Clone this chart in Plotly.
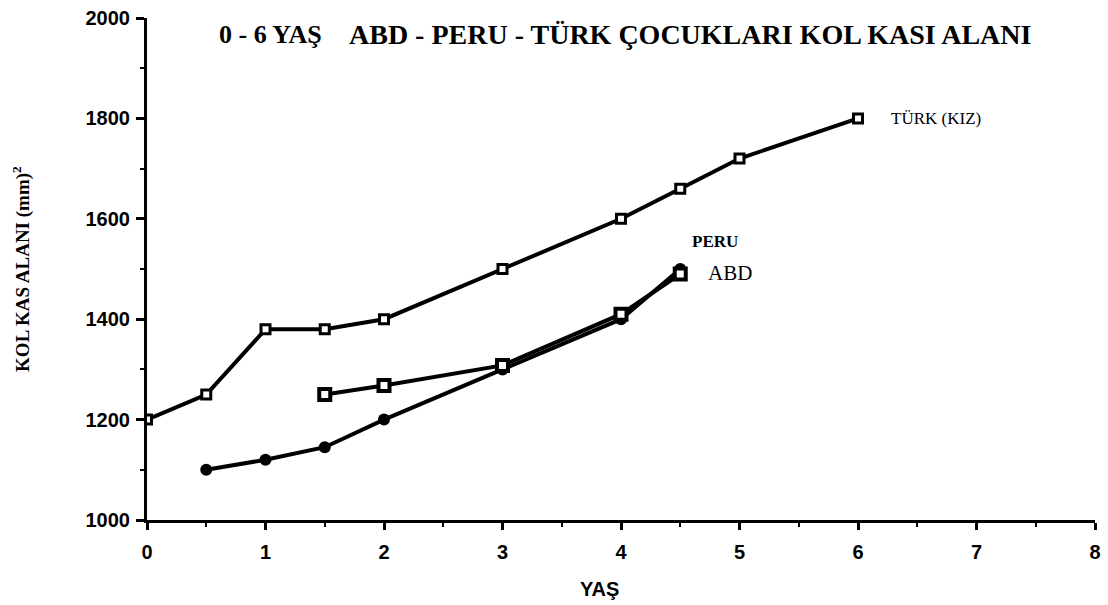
import plotly.graph_objects as go

# Age (years) and arm muscle area (mm^2)
turk_age = [0, 0.5, 1, 1.5, 2, 3, 4, 4.5, 5, 6]
turk_area = [1200, 1250, 1380, 1380, 1400, 1500, 1600, 1660, 1720, 1800]

abd_age = [1.5, 2, 3, 4, 4.5]
abd_area = [1250, 1268, 1308, 1410, 1490]

peru_age = [0.5, 1, 1.5, 2, 3, 4, 4.5]
peru_area = [1100, 1120, 1145, 1200, 1300, 1400, 1500]

x_ticks = [0, 1, 2, 3, 4, 5, 6, 7, 8]
y_ticks = [1000, 1200, 1400, 1600, 1800, 2000]

SERIF = "Liberation Serif"
SANS = "Liberation Sans"

fig = go.Figure()

fig.add_trace(go.Scatter(x=turk_age, y=turk_area, mode="lines+markers",
                         line=dict(color="black", width=4),
                         marker=dict(symbol="square", size=9, color="white",
                                     line=dict(color="black", width=3)),
                         showlegend=False))
fig.add_trace(go.Scatter(x=peru_age, y=peru_area, mode="lines+markers",
                         line=dict(color="black", width=4),
                         marker=dict(symbol="circle", size=12, color="black"),
                         showlegend=False))
fig.add_trace(go.Scatter(x=abd_age, y=abd_area, mode="lines+markers",
                         line=dict(color="black", width=4),
                         marker=dict(symbol="square", size=11, color="white",
                                     line=dict(color="black", width=4)),
                         showlegend=False))

axis_common = dict(showgrid=False, zeroline=False, showline=True,
                   linecolor="black", linewidth=3, ticks="outside",
                   tickcolor="black", tickwidth=2.5)

fig.update_xaxes(range=[0, 8], tickvals=x_ticks, ticklen=7,
                 tickfont=dict(family=SANS, size=20, color="black",
                               weight="bold"),
                 ticklabelstandoff=5,
                 minor=dict(dtick=0.5, ticks="outside", ticklen=4,
                            tickwidth=2, tickcolor="black"),
                 **axis_common)
fig.update_yaxes(range=[1000, 2000], tickvals=y_ticks, ticklen=8,
                 tickfont=dict(family=SANS, size=20, color="black",
                               weight="bold"),
                 ticklabelstandoff=2,
                 minor=dict(dtick=100, ticks="outside", ticklen=4,
                            tickwidth=2, tickcolor="black"),
                 **axis_common)

annotations = [
    dict(text="0 - 6 YAŞ", x=0.074, y=0.968, xref="paper", yref="paper",
         xanchor="left", yanchor="middle", showarrow=False,
         font=dict(family=SERIF, size=26, color="black", weight="bold")),
    dict(text="ABD - PERU - TÜRK ÇOCUKLARI KOL KASI ALANI", x=0.211,
         y=0.968, xref="paper", yref="paper", xanchor="left",
         yanchor="middle", showarrow=False,
         font=dict(family=SERIF, size=28, color="black", weight="bold")),
    dict(text="TÜRK (KIZ)", x=6.26, y=1800, xanchor="left", yanchor="middle",
         showarrow=False, font=dict(family=SERIF, size=17, color="black")),
    dict(text="PERU", x=4.58, y=1554, xanchor="left", yanchor="middle",
         showarrow=False,
         font=dict(family=SERIF, size=17, color="black", weight="bold")),
    dict(text="ABD", x=4.72, y=1492, xanchor="left", yanchor="middle",
         showarrow=False, font=dict(family=SERIF, size=21, color="black")),
    dict(text="KOL KAS ALANI (mm)<sup>2</sup>", x=-0.133, y=0.5,
         xref="paper", yref="paper", xanchor="center", yanchor="middle",
         textangle=-90, showarrow=False,
         font=dict(family=SERIF, size=19, color="black", weight="bold")),
    dict(text="YAŞ", x=0.477, y=-0.137, xref="paper", yref="paper",
         xanchor="center", yanchor="middle", showarrow=False,
         font=dict(family=SANS, size=20, color="black", weight="bold")),
]

fig.update_layout(width=1108, height=605,
                  margin=dict(l=147, r=7, t=14, b=85),
                  paper_bgcolor="white", plot_bgcolor="white",
                  annotations=annotations)

fig.write_html("out.html")
